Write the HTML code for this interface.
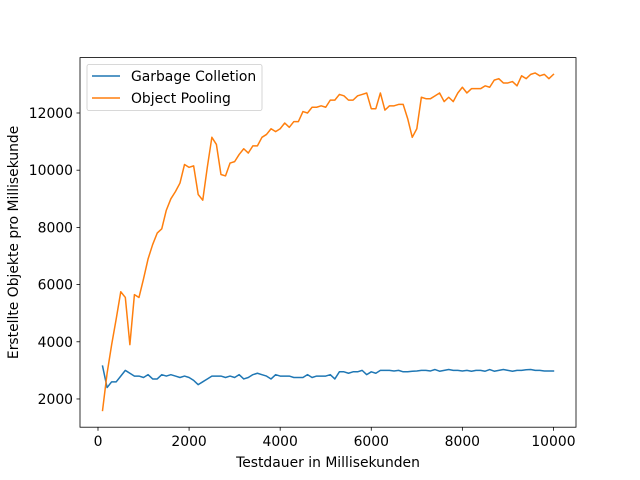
<!DOCTYPE html>
<html><head><meta charset="utf-8"><style>
body{margin:0;background:#fff}
svg{display:block;font-family:"DejaVu Sans","Liberation Sans",sans-serif}
</style></head><body>
<svg id="chart" width="640" height="480">
<rect width="640" height="480" fill="#fff"/>
<g id="plot"></g>
</svg>
<script>
const xValues=[];for(let i=1;i<=100;i++)xValues.push(i*100);
const garbageCollection=[3150,2400,2600,2600,2800,3000,2900,2800,2800,2750,2850,2700,2700,2850,2800,2850,2800,2750,2800,2750,2650,2500,2600,2700,2800,2800,2800,2750,2800,2750,2850,2700,2750,2850,2900,2850,2800,2700,2850,2800,2800,2800,2750,2750,2750,2850,2750,2800,2800,2800,2850,2700,2950,2950,2900,2950,2950,3000,2850,2950,2900,3000,3000,3000,2980,3000,2950,2950,2970,2980,3000,3000,2980,3030,2970,3000,3030,3000,3000,2980,3000,2970,3000,3000,2970,3030,2970,3000,3030,3000,2970,3000,3000,3020,3030,3000,3000,2980,2980,2980];
const objectPooling=[1600,2900,3900,4800,5750,5550,3900,5650,5550,6200,6900,7400,7800,7950,8600,9000,9250,9550,10200,10100,10150,9150,8950,10100,11150,10900,9850,9800,10250,10300,10550,10750,10600,10850,10850,11150,11250,11450,11350,11450,11650,11500,11700,11700,12050,12000,12200,12200,12250,12200,12450,12450,12650,12600,12450,12450,12600,12650,12700,12150,12150,12700,12100,12250,12250,12300,12300,11800,11150,11450,12550,12500,12500,12600,12700,12400,12550,12400,12700,12900,12700,12850,12850,12850,12950,12900,13150,13200,13050,13050,13100,12950,13300,13200,13350,13400,13300,13350,13200,13350];
const xTicks=[0,2000,4000,6000,8000,10000];
const yTicks=[2000,4000,6000,8000,10000,12000];
const L=80,R=576,T=57.6,B=427.2,xmin=-395,xmax=10495,ymin=1013,ymax=13937;
const sx=v=>L+(v-xmin)/(xmax-xmin)*(R-L);
const sy=v=>B-(v-ymin)/(ymax-ymin)*(B-T);
const g=document.getElementById('plot');
const NS='http://www.w3.org/2000/svg';
const FS=13.9;
function mk(t,a,txt){const e=document.createElementNS(NS,t);for(const k in a)e.setAttribute(k,a[k]);if(txt!==undefined)e.textContent=txt;g.appendChild(e);return e;}
function series(vals,color,name){
 const e=mk('polyline',{points:vals.map((v,i)=>sx(xValues[i])+','+sy(v)).join(' '),fill:'none',stroke:color,'stroke-width':1.5,'stroke-linejoin':'round','stroke-linecap':'square'});
 
 
}
series(garbageCollection,'#1f77b4','series-garbage-collection');
series(objectPooling,'#ff7f0e','series-object-pooling');
const frame=mk('rect',{x:L,y:T,width:R-L,height:B-T,fill:'none',stroke:'#000','stroke-width':0.8});


xTicks.forEach(v=>{const x=sx(v);
 mk('line',{x1:x,x2:x,y1:B,y2:B+3.5,stroke:'#000','stroke-width':0.8});
 const t=mk('text',{x:x,y:B+19,'text-anchor':'middle','font-size':FS},String(v));
 
 
});
yTicks.forEach(v=>{const y=sy(v);
 mk('line',{x1:L-3.5,x2:L,y1:y,y2:y,stroke:'#000','stroke-width':0.8});
 const t=mk('text',{x:L-7,y:y+5,'text-anchor':'end','font-size':FS},String(v));
 
 
});
const xt=mk('text',{x:(L+R)/2,y:467,'text-anchor':'middle','font-size':FS},'Testdauer in Millisekunden');


const yc=(T+B)/2;
const yt=mk('text',{x:18,y:yc,'text-anchor':'middle','font-size':FS,transform:'rotate(-90 18 '+yc+')'},'Erstellte Objekte pro Millisekunde');


const lg=mk('rect',{x:87,y:64.5,width:175,height:46,fill:'#fff',stroke:'#ccc','stroke-width':0.8,rx:2});


[['Garbage Colletion','#1f77b4',76],['Object Pooling','#ff7f0e',98]].forEach(([n,c,y])=>{
 mk('line',{x1:92,x2:120,y1:y,y2:y,stroke:c,'stroke-width':1.5});
 const t=mk('text',{x:131,y:y+5,'font-size':FS},n);
 
 
});
</script>
</body></html>
